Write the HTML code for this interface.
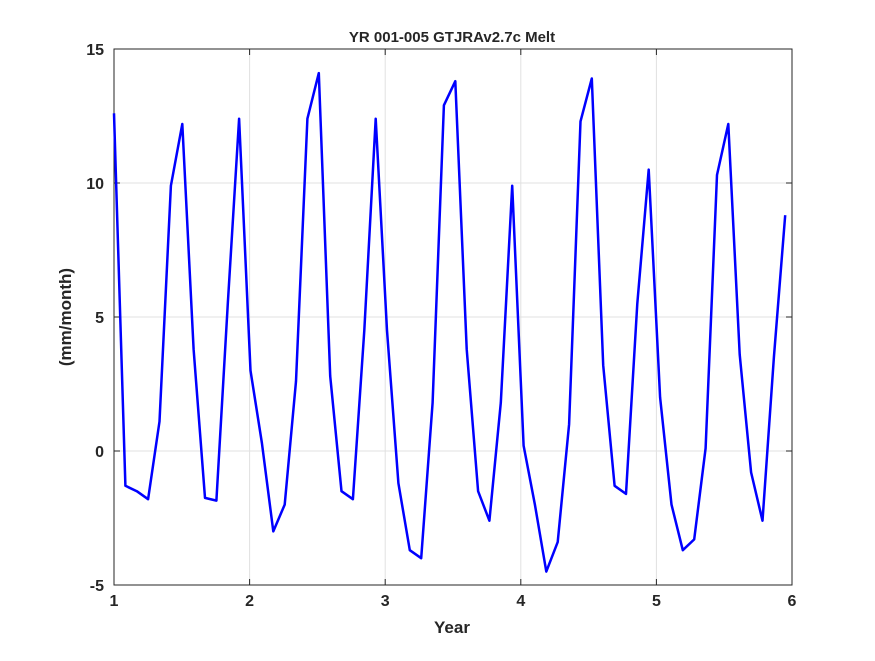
<!DOCTYPE html>
<html><head><meta charset="utf-8"><style>
body{margin:0;background:#fff;}
svg text{font-family:"Liberation Sans",sans-serif;font-weight:bold;fill:#262626;}
</style></head><body>
<svg width="875" height="656" xmlns="http://www.w3.org/2000/svg">
<rect width="875" height="656" fill="#fff"/>
<g id="grid"></g>
<g id="axes"></g>
<polyline id="line" fill="none" stroke="#0000ff" stroke-width="2.5" stroke-linejoin="round"/>
<text x="452" y="42" text-anchor="middle" font-size="15">YR 001-005 GTJRAv2.7c Melt</text>
<text x="452" y="633" text-anchor="middle" font-size="17">Year</text>
<text transform="translate(71,317) rotate(-90)" text-anchor="middle" font-size="17">(mm/month)</text>
</svg>
<script>
const melt = [12.6,-1.3,-1.5,-1.8,1.1,9.9,12.2,3.8,-1.75,-1.85,5.5,12.4,
3.0,0.3,-3.0,-2.0,2.6,12.4,14.1,2.8,-1.5,-1.8,4.5,12.4,
4.5,-1.2,-3.7,-4.0,1.8,12.9,13.8,3.8,-1.5,-2.6,1.8,9.9,
0.2,-2.0,-4.5,-3.4,1.0,12.3,13.9,3.2,-1.3,-1.6,5.5,10.5,
2.0,-2.0,-3.7,-3.3,0.1,10.3,12.2,3.6,-0.8,-2.6,3.5,8.8];
const xTicks = [1,2,3,4,5,6];
const yTicks = [-5,0,5,10,15];
const startYear = 1;
const yearStep = 0.0839;
const L=114,R=792,T=49,B=585;
const xs=v=>L+(v-1)/5*(R-L);
const ys=v=>B-(v+5)/20*(B-T);
const NS="http://www.w3.org/2000/svg";
const grid=document.getElementById('grid'), axes=document.getElementById('axes');
function mk(tag,attrs,parent){const e=document.createElementNS(NS,tag);for(const k in attrs)e.setAttribute(k,attrs[k]);parent.appendChild(e);return e;}
xTicks.forEach(t=>{const x=xs(t);
 const g=mk('line',{x1:x,x2:x,y1:T,y2:B,stroke:'#e0e0e0','stroke-width':1},grid);
 
 
 mk('line',{x1:x,x2:x,y1:B,y2:B-6,stroke:'#262626'},axes);
 mk('line',{x1:x,x2:x,y1:T,y2:T+6,stroke:'#262626'},axes);
 const tx=mk('text',{x:x,y:B+21,'text-anchor':'middle','font-size':16},axes);tx.textContent=t;
 
 
});
yTicks.forEach(t=>{const y=ys(t);
 const g=mk('line',{x1:L,x2:R,y1:y,y2:y,stroke:'#e0e0e0','stroke-width':1},grid);
 
 
 mk('line',{x1:L,x2:L+6,y1:y,y2:y,stroke:'#262626'},axes);
 mk('line',{x1:R,x2:R-6,y1:y,y2:y,stroke:'#262626'},axes);
 const tx=mk('text',{x:L-10,y:y+6,'text-anchor':'end','font-size':16},axes);tx.textContent=t;
 
 
});
const box=mk('rect',{x:L,y:T,width:R-L,height:B-T,fill:'none',stroke:'#262626','stroke-width':1},axes);


document.getElementById('line').setAttribute('points',melt.map((v,i)=>xs(startYear+i*yearStep).toFixed(1)+','+ys(v).toFixed(1)).join(' '));
</script>
</body></html>
